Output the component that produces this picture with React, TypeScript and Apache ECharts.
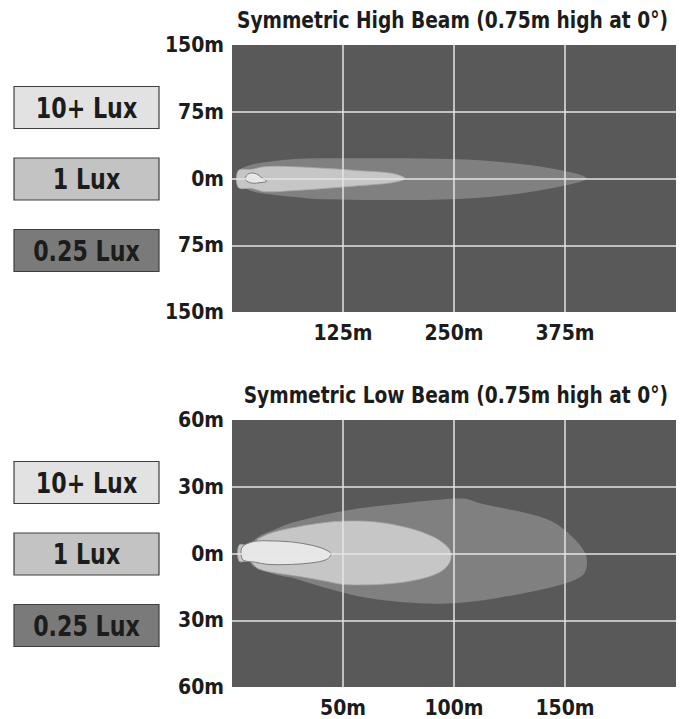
import React, { useEffect, useRef } from "react";
import * as echarts from "echarts";

const FONT = "'DejaVu Sans Condensed', 'Liberation Sans Narrow', 'DejaVu Sans', sans-serif";
const TEXT_COLOR = "#1c1c1c";

// ---- texts ----
const highTitle = "Symmetric High Beam (0.75m high at 0°)";
const lowTitle = "Symmetric Low Beam (0.75m high at 0°)";
const legendLabels = ["10+ Lux", "1 Lux", "0.25 Lux"];

// ---- tick values (metres) ----
const highXTicks = [0, 125, 250, 375, 500];
const highYTicks = [-150, -75, 0, 75, 150];
const lowXTicks = [0, 50, 100, 150, 200];
const lowYTicks = [-60, -30, 0, 30, 60];

// ---- high beam isolux outlines [distance m, lateral m] ----
const highQuarterLux = [
  [9, 9], [14.6, 13.3], [29.7, 17.0], [67.2, 21.5], [104.7, 22.7], [179.8, 22.7],
  [254.9, 21.5], [311.2, 17.8], [348.7, 13.3], [386.2, 5.8], [399.4, 0],
  [386.2, -5.4], [348.7, -12.9], [311.2, -18.5], [254.9, -23.0], [179.8, -24.2],
  [104.7, -23.4], [67.2, -20.4], [29.7, -15.9], [14.6, -11.1], [9, -7.3],
];
const highOneLux = [
  [7.1, 8.8], [22.1, 10.3], [37.2, 13.3], [67.2, 13.3], [104.7, 11.4], [142.3, 8.8],
  [179.8, 5.8], [194.8, 0], [179.8, -4.7], [142.3, -8.1], [104.7, -11.1], [67.2, -13.7],
  [37.2, -14.8], [22.1, -11.1], [7.1, -9.9],
];
const highTenLux = [
  [15.4, 1.3], [17.6, 4.7], [22.1, 6.2], [27.8, 5.1], [33.4, 0.9], [39.0, -3.2],
  [31.5, -4.7], [24.0, -5.4], [18.4, -3.9], [15.4, -1.7],
];

// ---- low beam isolux outlines [distance m, lateral m] ----
const lowQuarterLux = [
  [8.1, 3.3], [11.9, 7.5], [19.4, 10.8], [26.9, 13.8], [49.4, 19.0], [71.9, 22.0],
  [94.5, 24.3], [105.0, 24.6], [111.0, 22.8], [117.0, 21.3], [132.0, 18.3], [144.0, 14.5],
  [153.0, 7.8], [159.0, 0.3], [159.8, -5.7], [157.5, -10.2], [147.0, -14.4], [132.0, -17.7],
  [117.0, -20.4], [102.0, -22.2], [86.9, -22.5], [71.9, -21.4], [56.9, -19.2], [41.9, -15.4],
  [34.4, -13.2], [26.9, -10.9], [19.4, -9.4], [11.9, -6.9], [8.9, -4.9],
];
const lowOneLux = [
  [3.2, 3.7], [7.4, 3.7], [8.9, 4.0], [11.9, 6.6], [17.9, 9.3], [26.9, 11.5], [38.9, 13.5],
  [49.4, 14.5], [64.4, 14.2], [79.4, 11.5], [90.0, 7.8], [96.0, 4.0], [98.7, 0], [97.5, -4.9],
  [93.0, -8.7], [83.9, -11.7], [71.9, -13.5], [59.9, -14.1], [49.4, -13.8], [41.9, -12.4],
  [31.4, -10.5], [19.4, -8.7], [11.9, -6.9], [9.6, -4.9], [7.4, -3.4], [3.2, -3.4],
];
const lowTenLux = [
  [4.1, 0], [4.4, 2.5], [5.9, 4.0], [10.4, 5.5], [16.2, 5.7], [26.9, 5.2], [35.9, 3.7],
  [41.9, 1.8], [44.6, -0.2], [42.6, -2.7], [35.9, -4.2], [26.9, -4.9], [16.2, -4.9],
  [10.4, -3.9], [5.1, -3.0],
];

// ---- styles ----
const PLOT_BG = "#595959";
const ZONE_FILL = { quarter: "#808080", one: "#c6c6c6", ten: "#e7e7e7" };
const LEGEND_FILL = ["#e2e2e2", "#c3c3c3", "#7a7a7a"];
const GRID_LEFT = 232;
const GRID_W = 444;
const GRID_H = 267;
const GRID_TOPS = [45, 420];
const AXIS_FONT = 21;

function zoneSeries(points: number[][], idx: number, fill: string, stroke: string, lw: number) {
  return {
    type: "custom",
    xAxisIndex: idx,
    yAxisIndex: idx,
    data: points,
    silent: true,
    z: 2,
    clip: true,
    renderItem: (params: any, api: any) => {
      if (params.dataIndex !== 0) return null;
      const pts = points.map((p) => api.coord(p));
      return {
        type: "polygon",
        shape: { points: pts, smooth: 0.35 },
        style: { fill, stroke, lineWidth: lw },
      };
    },
  };
}

const splitLine = {
  show: true,
  showMinLine: false,
  showMaxLine: false,
  lineStyle: { color: "#e4e4e4", width: 1.5 },
};

function xAxisFor(ticks: number[], idx: number) {
  return {
    type: "value",
    gridIndex: idx,
    min: ticks[0],
    max: ticks[ticks.length - 1],
    interval: ticks[1] - ticks[0],
    z: 5,
    axisLine: { show: false },
    axisTick: { show: false },
    splitLine,
    axisLabel: {
      showMinLabel: false,
      showMaxLabel: false,
      margin: 10,
      color: TEXT_COLOR,
      fontFamily: FONT,
      fontWeight: "bold",
      fontSize: AXIS_FONT,
      formatter: (v: number) => `${v}m`,
    },
  };
}

function yAxisFor(ticks: number[], idx: number) {
  return {
    type: "value",
    gridIndex: idx,
    min: ticks[0],
    max: ticks[ticks.length - 1],
    interval: ticks[1] - ticks[0],
    z: 5,
    axisLine: { show: false },
    axisTick: { show: false },
    splitLine,
    axisLabel: {
      margin: 8,
      padding: [5, 0, 0, 0],
      color: TEXT_COLOR,
      fontFamily: FONT,
      fontWeight: "bold",
      fontSize: AXIS_FONT,
      formatter: (v: number) => `${Math.abs(v)}m`,
    },
  };
}

function titleGraphic(text: string, top: number) {
  return {
    type: "text",
    x: 668,
    y: top - 25,
    scaleX: 0.9,
    silent: true,
    style: {
      text,
      textAlign: "right",
      textVerticalAlign: "middle",
      fontFamily: FONT,
      fontWeight: "bold",
      fontSize: 23,
      fill: TEXT_COLOR,
    },
  };
}

function legendGraphics(top: number) {
  const items: any[] = [];
  const centers = [62.5, 134, 205.5];
  legendLabels.forEach((label, i) => {
    const cy = top + centers[i];
    items.push({
      type: "rect",
      shape: { x: 14, y: cy - 21, width: 145, height: 42 },
      style: { fill: LEGEND_FILL[i], stroke: "#3e3e3e", lineWidth: 1.2 },
      silent: true,
    });
    items.push({
      type: "text",
      x: 86.5,
      y: cy,
      scaleX: 0.85,
      silent: true,
      style: {
        text: label,
        textAlign: "center",
        textVerticalAlign: "middle",
        fontFamily: FONT,
        fontWeight: "bold",
        fontSize: 29,
        fill: TEXT_COLOR,
      },
    });
  });
  return items;
}

export default function App() {
  const ref = useRef<HTMLDivElement>(null);
  useEffect(() => {
    if (!ref.current) return;
    const chart = echarts.init(ref.current, null, { renderer: "svg" });
    chart.setOption({
      animation: false,
      backgroundColor: "#ffffff",
      grid: GRID_TOPS.map((t) => ({
        left: GRID_LEFT,
        top: t,
        width: GRID_W,
        height: GRID_H,
        show: true,
        backgroundColor: PLOT_BG,
        borderWidth: 0,
      })),
      xAxis: [xAxisFor(highXTicks, 0), xAxisFor(lowXTicks, 1)],
      yAxis: [yAxisFor(highYTicks, 0), yAxisFor(lowYTicks, 1)],
      series: [
        zoneSeries(highQuarterLux, 0, ZONE_FILL.quarter, "none", 0),
        zoneSeries(highOneLux, 0, ZONE_FILL.one, "#a8a8a8", 0.8),
        zoneSeries(highTenLux, 0, ZONE_FILL.ten, "#7c7c7c", 1),
        zoneSeries(lowQuarterLux, 1, ZONE_FILL.quarter, "none", 0),
        zoneSeries(lowOneLux, 1, ZONE_FILL.one, "#a8a8a8", 0.8),
        zoneSeries(lowTenLux, 1, ZONE_FILL.ten, "#7c7c7c", 1),
      ],
      graphic: [
        titleGraphic(highTitle, GRID_TOPS[0]),
        titleGraphic(lowTitle, GRID_TOPS[1]),
        ...legendGraphics(GRID_TOPS[0]),
        ...legendGraphics(GRID_TOPS[1]),
      ],
    });
    return () => chart.dispose();
  }, []);
  return (
    <div
      ref={ref}
      style={{ position: "fixed", left: 0, top: 0, width: 690, height: 719 }}
    />
  );
}
